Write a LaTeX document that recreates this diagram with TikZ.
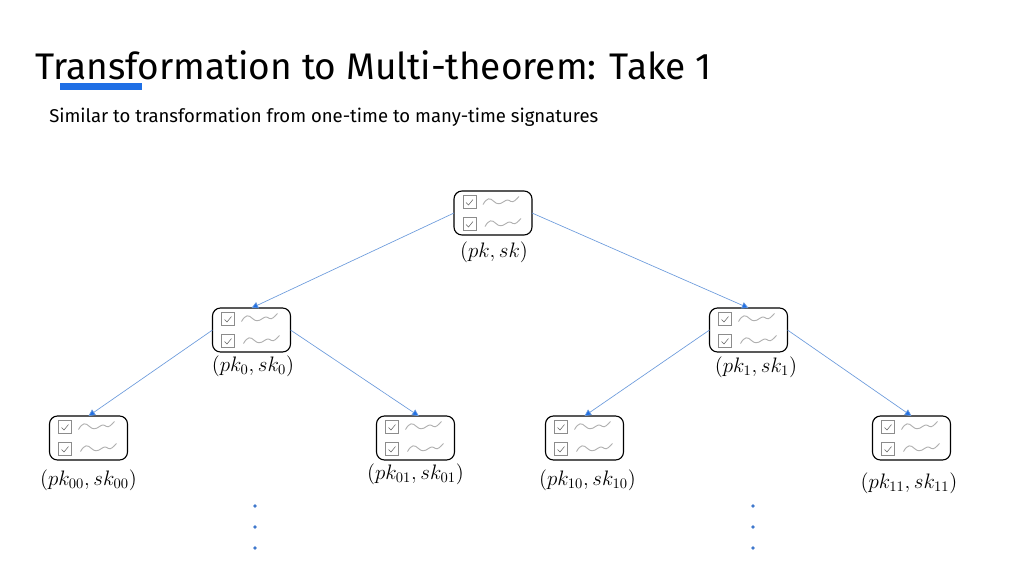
\documentclass[tikz,border=0pt]{standalone}
\usepackage{fontspec}
\setmainfont{Fira Sans}
\usetikzlibrary{arrows.meta}
\definecolor{linkblue}{HTML}{6C9BDC}
\definecolor{barblue}{HTML}{1F6FE5}
\definecolor{dotblue}{HTML}{3F78CC}
\definecolor{tickgray}{HTML}{8C8C8C}
\definecolor{wavegray}{HTML}{B0B0B0}
\tikzset{
  keybox/.style={draw=black,line width=0.85pt,rounded corners=6pt,minimum width=58.5pt,minimum height=33pt,inner sep=0pt,outer sep=0pt},
  link/.style={draw=linkblue,line width=0.5pt,-{Triangle[length=5pt,width=5pt,fill=barblue]}},
  keylabel/.style={inner sep=0pt,font=\fontsize{14.4}{17}\selectfont,scale=1.09,transform shape},
  tickbox/.style={draw=tickgray,line width=0.6pt,fill=white},
  tickmark/.style={draw=tickgray!70!black,line width=0.4pt},
  wave/.style={draw=wavegray,line width=0.7pt},
  elldot/.style={fill=dotblue,circle,inner sep=0pt,minimum size=2.7pt}
}
\newcommand{\rowglyph}[3]{%
  \begin{scope}[shift={(#1,#2)}]
    \draw[tickbox] (-30,-6) rectangle (-17,7);
    \draw[tickmark] (-27,1) -- (-24.5,3.5) -- (-20,-2);
    \begin{scope}[shift={(#3,0)}]
    \draw[wave] (-11,3) .. controls (-7,-4) and (-4,-4) .. (0,0) .. controls (3,3) and (6,3) .. (10,0) .. controls (13,-2) and (14,-2) .. (17,0) .. controls (20,1) and (22,-2) .. (25,-5);
    \end{scope}
  \end{scope}}
\newcommand{\keynode}[3]{%
  \node[keybox] (#1) at (#2,#3) {};
  \rowglyph{#2}{#3-11.5}{1}
  \rowglyph{#2}{#3+10.5}{3}}
\begin{document}
\begin{tikzpicture}[x=0.75pt,y=-0.75pt]
\useasboundingbox (0,0) rectangle (1024,576);
\node[anchor=base west,inner sep=0pt,font=\fontsize{27.75}{34}\selectfont] (title) at (35,79) {Transformation to Multi-theorem: Take 1};
\fill[barblue] (60,83) rectangle (142,90);
\node[anchor=base west,inner sep=0pt,font=\fontsize{13.9}{17}\selectfont] (sub) at (49,122) {Similar to transformation from one-time to many-time signatures};

\keynode{r}{493}{213}
\keynode{n0}{251.5}{330}
\keynode{n1}{748.5}{330}
\keynode{n00}{88.5}{438}
\keynode{n01}{415.5}{438}
\keynode{n10}{584.5}{438}
\keynode{n11}{911.5}{438}

\draw[link] (r.west) -- (n0.north);
\draw[link] (r.east) -- (n1.north);
\draw[link] (n0.west) -- (n00.north);
\draw[link] (n0.east) -- ([xshift=2.5pt]n01.north);
\draw[link] (n1.west) -- (n10.north);
\draw[link] (n1.east) -- (n11.north);

\node[keylabel] (lr) at (494,252) {$(pk,sk)$};
\node[keylabel] (l0) at (253,366) {$(pk_0,sk_0)$};
\node[keylabel] (l1) at (756,367) {$(pk_1,sk_1)$};
\node[keylabel] (l00) at (88.5,480) {$(pk_{00},sk_{00})$};
\node[keylabel] (l01) at (415.5,474) {$(pk_{01},sk_{01})$};
\node[keylabel] (l10) at (587.5,480) {$(pk_{10},sk_{10})$};
\node[keylabel] (l11) at (909,483) {$(pk_{11},sk_{11})$};

\foreach \x in {255,753}\foreach \y in {506,527,548}{\node[elldot] at (\x,\y) {};}
\end{tikzpicture}
\end{document}
